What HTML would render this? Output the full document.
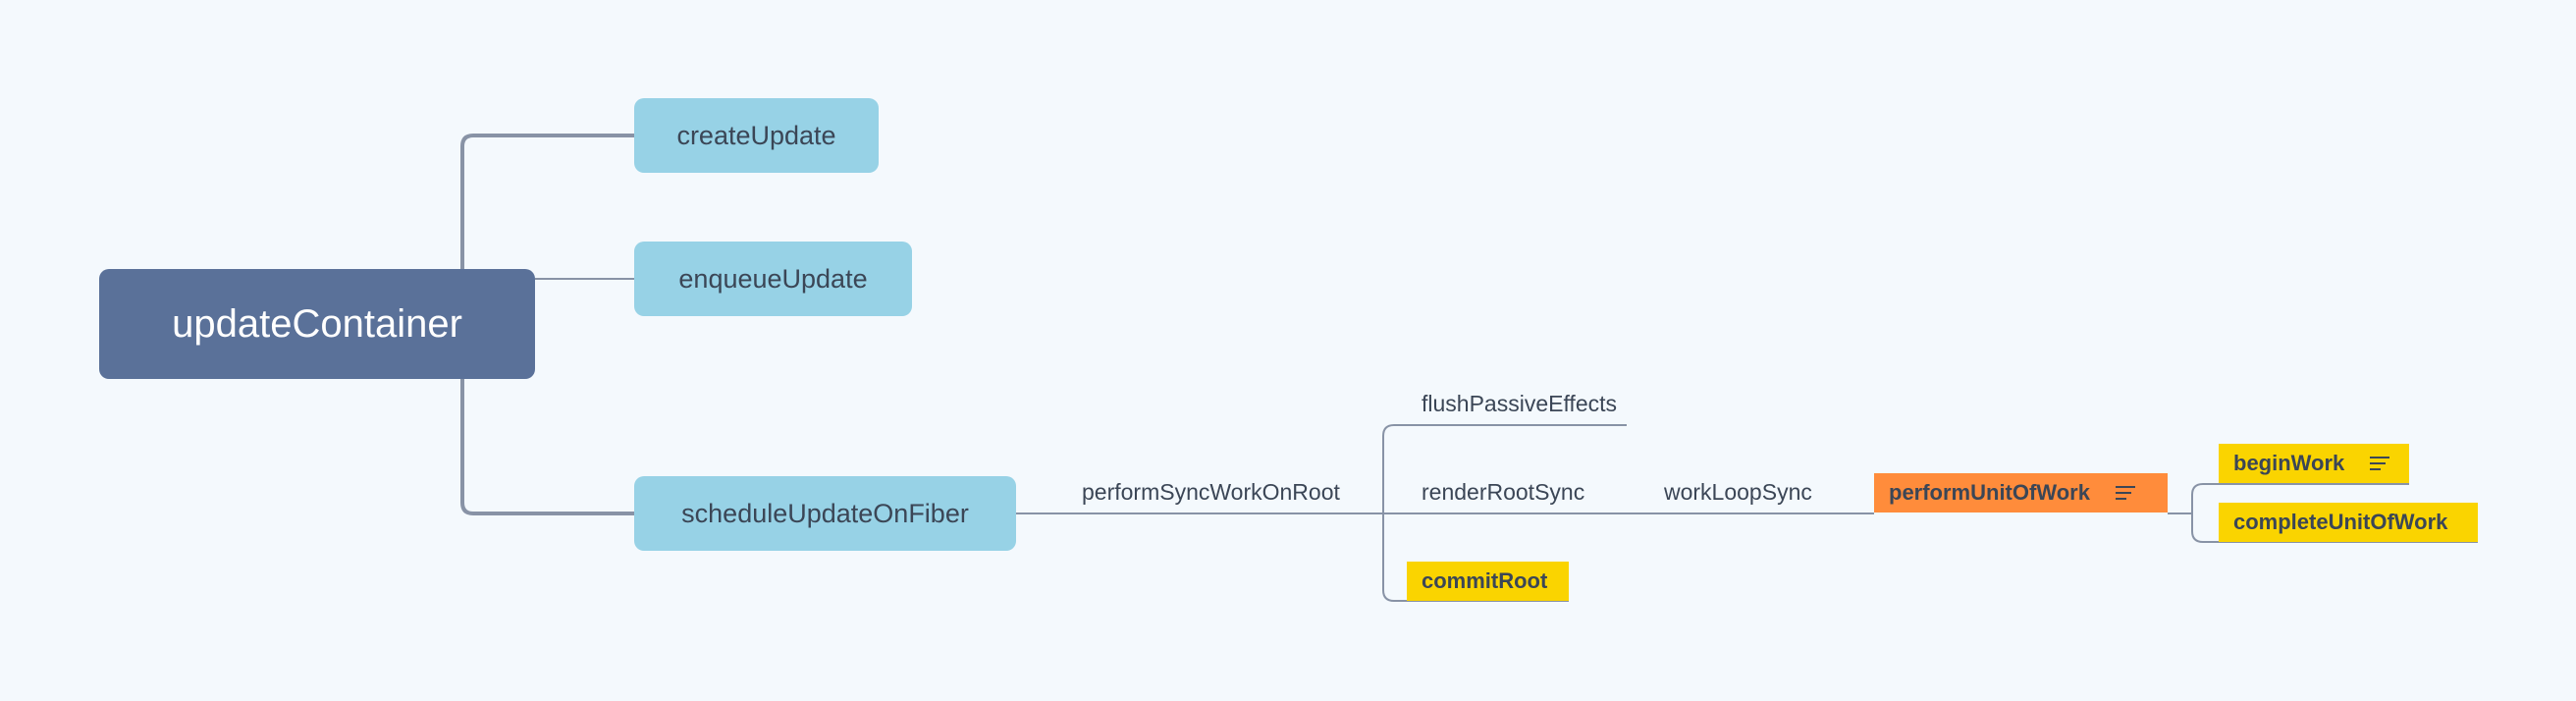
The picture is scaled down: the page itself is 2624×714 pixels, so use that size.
<!DOCTYPE html>
<html><head><meta charset="utf-8"><style>
body{margin:0;width:2624px;height:714px;background:#f4f9fd;position:relative;overflow:hidden;font-family:"Liberation Sans",sans-serif}
.a{position:absolute;box-sizing:border-box}
.n{display:flex;align-items:center;justify-content:center;color:#3b4656}
.b{background:#97d2e6;border-radius:10px;font-size:27px}
.t{font-size:23px;color:#3b4656;white-space:nowrap;line-height:1}
.y{background:#fad400;font-weight:bold;font-size:22px;justify-content:flex-start;padding-left:15px}
.ic{display:inline-block;width:20px;margin-left:26px;vertical-align:middle}
.ic i{display:block;height:2px;background:#3b4656;margin:4px 0}
</style></head><body>
<svg class="a" style="left:0;top:0" width="2624" height="714">
<g fill="none" stroke="#8893a6" stroke-width="2">
<path d="M646 138 H482 Q471 138 471 149 V512 Q471 523 482 523 H646" stroke-width="4"/>
<path d="M545 284 H646"/>
<path d="M1035 523 H1909"/>
<path d="M1657 433 H1420 Q1409 433 1409 444 V601 Q1409 612 1420 612 H1598"/>
<path d="M2208 523 H2233"/>
<path d="M2454 493 H2244 Q2233 493 2233 504 V541 Q2233 552 2244 552 H2524"/>
</g></svg>
<div class="a n" style="left:101px;top:274px;width:444px;height:112px;background:#5a7199;border-radius:10px;color:#fff;font-size:40px">updateContainer</div>
<div class="a n b" style="left:646px;top:100px;width:249px;height:76px">createUpdate</div>
<div class="a n b" style="left:646px;top:246px;width:283px;height:76px">enqueueUpdate</div>
<div class="a n b" style="left:646px;top:485px;width:389px;height:76px">scheduleUpdateOnFiber</div>
<div class="a t" style="left:1102px;top:490px">performSyncWorkOnRoot</div>
<div class="a t" style="left:1448px;top:400px">flushPassiveEffects</div>
<div class="a t" style="left:1448px;top:490px">renderRootSync</div>
<div class="a t" style="left:1695px;top:490px">workLoopSync</div>
<div class="a n y" style="left:1433px;top:572px;width:165px;height:40px">commitRoot</div>
<div class="a n y" style="left:1909px;top:482px;width:299px;height:40px;background:#ff8c3b">performUnitOfWork<span class="ic"><i></i><i style="width:80%"></i><i style="width:55%"></i></span></div>
<div class="a n y" style="left:2260px;top:452px;width:194px;height:40px">beginWork<span class="ic"><i></i><i style="width:80%"></i><i style="width:55%"></i></span></div>
<div class="a n y" style="left:2260px;top:512px;width:264px;height:40px">completeUnitOfWork</div>
</body></html>
